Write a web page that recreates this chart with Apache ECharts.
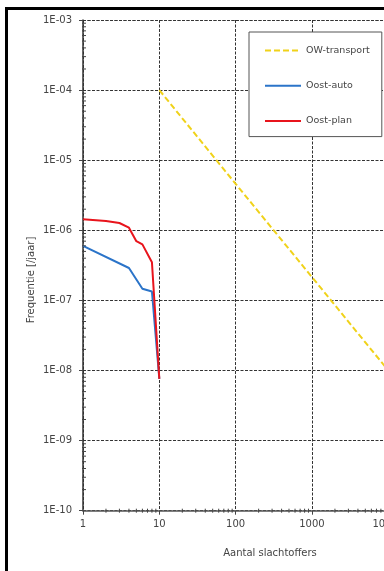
<!DOCTYPE html>
<html>
<head>
<meta charset="utf-8">
<script src="https://cdn.jsdelivr.net/npm/echarts@6/dist/echarts.min.js"></script>
<style>
html,body{margin:0;padding:0;background:#fff;}
#chart{width:384px;height:571px;}
</style>
</head>
<body>
<div id="chart"></div>
<script>
// Series data [aantal slachtoffers, frequentie per jaar]
const owTransport = [[10, 1e-4], [100, 4.6e-6], [1000, 2.15e-7], [10000, 1e-8]];
const oostAuto = [[1, 6.0e-7], [4, 2.9e-7], [6, 1.47e-7], [8, 1.34e-7], [10, 7.6e-9]];
const oostPlan = [[1, 1.44e-6], [2, 1.36e-6], [3, 1.27e-6], [4, 1.09e-6], [5, 7.0e-7], [6, 6.3e-7], [8, 3.5e-7], [10, 7.6e-9]];
const seriesNames = ['OW-transport', 'Oost-auto', 'Oost-plan'];
const xTickLabels = ['1', '10', '100', '1000', '10000'];
const yTickLabels = ['1E-10', '1E-09', '1E-08', '1E-07', '1E-06', '1E-05', '1E-04', '1E-03'];

// minor tick positions (2..9 in every decade)
const xDecades = [1, 10, 100, 1000];
const yDecades = [1e-10, 1e-9, 1e-8, 1e-7, 1e-6, 1e-5, 1e-4];
const minorX = [], minorY = [];
xDecades.forEach(d => { for (let k = 2; k <= 9; k++) minorX.push([d * k, 1e-10]); });
yDecades.forEach(d => { for (let k = 2; k <= 9; k++) minorY.push([1, d * k]); });

const FONT = 'DejaVu Sans';
const chart = echarts.init(document.getElementById('chart'), null, {renderer: 'canvas'});

function xLabel(v) {
  const e = Math.round(Math.log10(v));
  return xTickLabels[e] !== undefined ? xTickLabels[e] : '';
}
function yLabel(v) {
  const e = Math.round(Math.log10(v));
  return yTickLabels[e + 10] !== undefined ? yTickLabels[e + 10] : '';
}

const gridLine = {show: true, lineStyle: {color: '#333', width: 1, type: [3, 1.5]}};

chart.setOption({
  animation: false,
  backgroundColor: '#fff',
  grid: {left: 83, top: 20, width: 305.3, height: 490.7, containLabel: false, outerBoundsMode: 'none'},
  legend: {
    data: seriesNames,
    orient: 'vertical',
    left: 249, top: 32,
    itemWidth: 36, itemHeight: 14, itemGap: 24,
    padding: [13, 12, 10, 15],
    borderColor: '#555', borderWidth: 1,
    backgroundColor: '#fff',
    itemStyle: {opacity: 0},
    textStyle: {fontFamily: FONT, fontSize: 9.5, color: '#444'}
  },
  xAxis: {
    type: 'log', logBase: 10, min: 1, max: 10000,
    axisLine: {show: true, onZero: false, lineStyle: {color: '#555', width: 1.5}},
    axisTick: {show: true, length: 4, lineStyle: {color: '#444'}},
    axisLabel: {margin: 9, fontFamily: FONT, fontSize: 10, color: '#444', formatter: xLabel},
    splitLine: gridLine
  },
  yAxis: {
    type: 'log', logBase: 10, min: 1e-10, max: 1e-3,
    axisLine: {show: true, onZero: false, lineStyle: {color: '#333', width: 1.5}},
    axisTick: {show: true, length: 4, lineStyle: {color: '#444'}},
    axisLabel: {margin: 11, fontFamily: FONT, fontSize: 10, color: '#444', formatter: yLabel},
    splitLine: gridLine
  },
  graphic: [
    {type: 'rect', left: 5, top: 7, z: 100, shape: {width: 3, height: 564}, style: {fill: '#000'}},
    {type: 'rect', left: 5, top: 7, z: 100, shape: {width: 379, height: 3}, style: {fill: '#000'}},
    {type: 'text', x: 270, y: 553, z: 100, style: {text: 'Aantal slachtoffers', fontFamily: FONT, fontSize: 10, fill: '#444', align: 'center', verticalAlign: 'middle'}},
    {type: 'text', x: 31, y: 280, rotation: Math.PI / 2, z: 100, style: {text: 'Frequentie [/jaar]', fontFamily: FONT, fontSize: 10, fill: '#444', align: 'center', verticalAlign: 'middle'}}
  ],
  series: [
    {name: 'OW-transport', type: 'line', data: owTransport, showSymbol: false, symbol: 'none', z: 3,
     lineStyle: {color: '#F0D21A', width: 2, type: [6, 3]}, itemStyle: {color: '#F0D21A'}},
    {name: 'Oost-auto', type: 'line', data: oostAuto, showSymbol: false, symbol: 'none', z: 4,
     lineStyle: {color: '#2B74C9', width: 2}, itemStyle: {color: '#2B74C9'}},
    {name: 'Oost-plan', type: 'line', data: oostPlan, showSymbol: false, symbol: 'none', z: 5,
     lineStyle: {color: '#E8141C', width: 2}, itemStyle: {color: '#E8141C'}},
    {name: 'minorX', type: 'custom', data: minorX, clip: false, silent: true, z: 6,
     renderItem: function (params, api) {
       const p = api.coord([api.value(0), api.value(1)]);
       return {type: 'line', shape: {x1: p[0], y1: p[1] - 2, x2: p[0], y2: p[1] + 2}, style: {stroke: '#444', lineWidth: 1}};
     }},
    {name: 'minorY', type: 'custom', data: minorY, clip: false, silent: true, z: 6,
     renderItem: function (params, api) {
       const p = api.coord([api.value(0), api.value(1)]);
       return {type: 'line', shape: {x1: p[0] - 1, y1: p[1], x2: p[0] + 3, y2: p[1]}, style: {stroke: '#444', lineWidth: 1}};
     }}
  ]
});
</script>
</body>
</html>
